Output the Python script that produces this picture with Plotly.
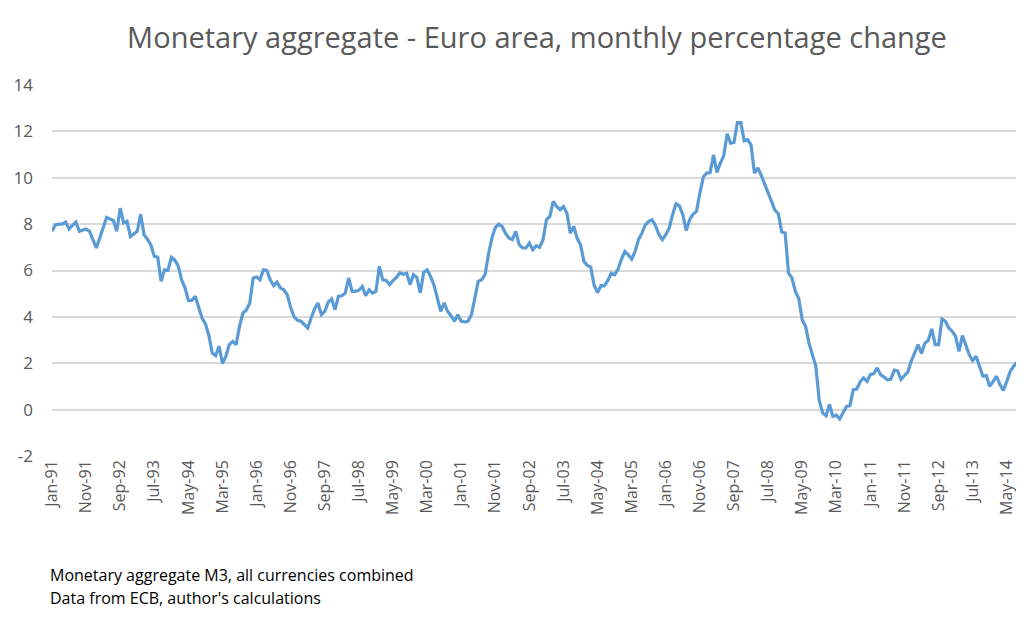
import plotly.graph_objects as go

months = ["Jan", "Feb", "Mar", "Apr", "May", "Jun", "Jul", "Aug", "Sep", "Oct", "Nov", "Dec"]
n_points = 284
labels = [f"{months[i % 12]}-{(91 + i // 12) % 100:02d}" for i in range(n_points)]

values = [
    7.69, 7.97, 8.0, 8.0, 8.09, 7.79, 7.95, 8.09, 7.69, 7.75, 7.79, 7.69,
    7.3, 6.97, 7.4, 7.9, 8.29, 8.22, 8.16, 7.69, 8.69, 8.05, 8.12, 7.47,
    7.6, 7.69, 8.43, 7.54, 7.35, 7.1, 6.61, 6.58, 5.53, 6.03, 6.0, 6.57,
    6.45, 6.2, 5.6, 5.25, 4.71, 4.71, 4.89, 4.45, 3.95, 3.7, 3.2, 2.44,
    2.33, 2.73, 1.99, 2.3, 2.8, 2.94, 2.8, 3.6, 4.17, 4.3, 4.6, 5.68,
    5.72, 5.6, 6.03, 6.0, 5.6, 5.35, 5.5, 5.24, 5.17, 4.95, 4.4, 4.0,
    3.85, 3.81, 3.66, 3.52, 3.95, 4.34, 4.6, 4.09, 4.24, 4.63, 4.77, 4.31,
    4.89, 4.91, 5.03, 5.68, 5.1, 5.1, 5.15, 5.31, 4.91, 5.17, 5.03, 5.1,
    6.18, 5.6, 5.57, 5.39, 5.56, 5.7, 5.9, 5.84, 5.88, 5.39, 5.82, 5.7,
    5.03, 5.92, 6.03, 5.75, 5.39, 4.81, 4.24, 4.6, 4.24, 4.05, 3.81, 4.09,
    3.81, 3.78, 3.81, 4.09, 4.81, 5.53, 5.6, 5.82, 6.7, 7.4, 7.85, 8.0,
    7.9, 7.6, 7.4, 7.33, 7.69, 7.11, 6.97, 6.97, 7.18, 6.9, 7.07, 7.0,
    7.33, 8.19, 8.33, 8.98, 8.76, 8.62, 8.76, 8.48, 7.61, 7.9, 7.4, 7.11,
    6.39, 6.22, 6.15, 5.35, 5.05, 5.35, 5.34, 5.57, 5.88, 5.82, 6.05, 6.49,
    6.82, 6.68, 6.49, 6.82, 7.33, 7.61, 7.97, 8.12, 8.19, 7.93, 7.54, 7.33,
    7.54, 7.83, 8.41, 8.88, 8.79, 8.41, 7.72, 8.19, 8.43, 8.55, 9.34, 10.03,
    10.2, 10.22, 10.99, 10.23, 10.63, 10.95, 11.9, 11.49, 11.52, 12.38, 12.38, 11.59,
    11.64, 11.42, 10.2, 10.42, 10.1, 9.7, 9.34, 8.98, 8.6, 8.45, 7.66, 7.62,
    5.89, 5.68, 5.1, 4.79, 3.88, 3.59, 2.87, 2.37, 1.87, 0.4, -0.14, -0.26,
    0.22, -0.29, -0.24, -0.4, -0.15, 0.14, 0.17, 0.86, 0.89, 1.2, 1.37, 1.22,
    1.51, 1.55, 1.8, 1.51, 1.41, 1.29, 1.32, 1.7, 1.67, 1.3, 1.47, 1.63,
    2.1, 2.5, 2.8, 2.42, 2.87, 2.99, 3.48, 2.8, 2.8, 3.91, 3.81, 3.52,
    3.38, 3.16, 2.51, 3.19, 2.8, 2.37, 2.11, 2.3, 1.87, 1.44, 1.47, 1.0,
    1.22, 1.44, 1.08, 0.83, 1.22, 1.65, 1.87, 2.04,
]

tick_labels = labels[::10]
y_ticks = [-2, 0, 2, 4, 6, 8, 10, 12, 14]
y_tick_text = ["-2", "0", "2", "4", "6", "8", "10", "12", "14"]

title_text = "Monetary aggregate - Euro area, monthly percentage change"
note_lines = ["Monetary aggregate M3, all currencies combined",
              "Data from ECB, author's calculations"]

# page body has an 8px default margin; figure sized so it fits the window
W, H = 1016, 618
ML, MR, MT, MB = 44, 7, 77, 170
plot_h = H - MT - MB

fig = go.Figure()
fig.add_trace(go.Scatter(
    x=labels, y=values, mode="lines",
    line=dict(color="#5b9bd5", width=3.2),
    hoverinfo="x+y",
))

fig.update_layout(
    width=W, height=H,
    paper_bgcolor="white", plot_bgcolor="white",
    margin=dict(l=ML, r=MR, t=MT, b=MB),
    showlegend=False,
    font=dict(family="Open Sans, Liberation Sans, sans-serif", color="#595959"),
    title=dict(text=title_text, x=(537 - 8) / W, xanchor="center",
               y=1 - (38 - 8) / H, yanchor="middle",
               font=dict(size=29, color="#595959", family="Open Sans, sans-serif")),
)

fig.update_xaxes(
    type="category", range=[0, n_points - 1],
    tickmode="array", tickvals=tick_labels, ticktext=tick_labels,
    tickangle=-90, tickfont=dict(size=16, color="#595959"),
    showgrid=False, showline=False, zeroline=False, ticks="",
    automargin=False,
)
fig.update_yaxes(
    range=[-2, 14], tickmode="array", tickvals=y_ticks, ticktext=y_tick_text,
    tickfont=dict(size=17, color="#595959"),
    showgrid=True, gridcolor="#d9d9d9", gridwidth=1.5,
    zeroline=False, showline=False, ticks="", ticklabelstandoff=18,
    automargin=False,
)

for i, line in enumerate(note_lines):
    y_abs = 575 + 23 * i - 8
    fig.add_annotation(
        text=line, xref="paper", yref="paper",
        x=(48 - 8 - ML) / (W - ML - MR), y=(H - MB - y_abs) / plot_h,
        xanchor="left", yanchor="middle", showarrow=False,
        font=dict(size=16, color="#000000", family="Open Sans, sans-serif"),
    )

fig.write_html("out.html")
